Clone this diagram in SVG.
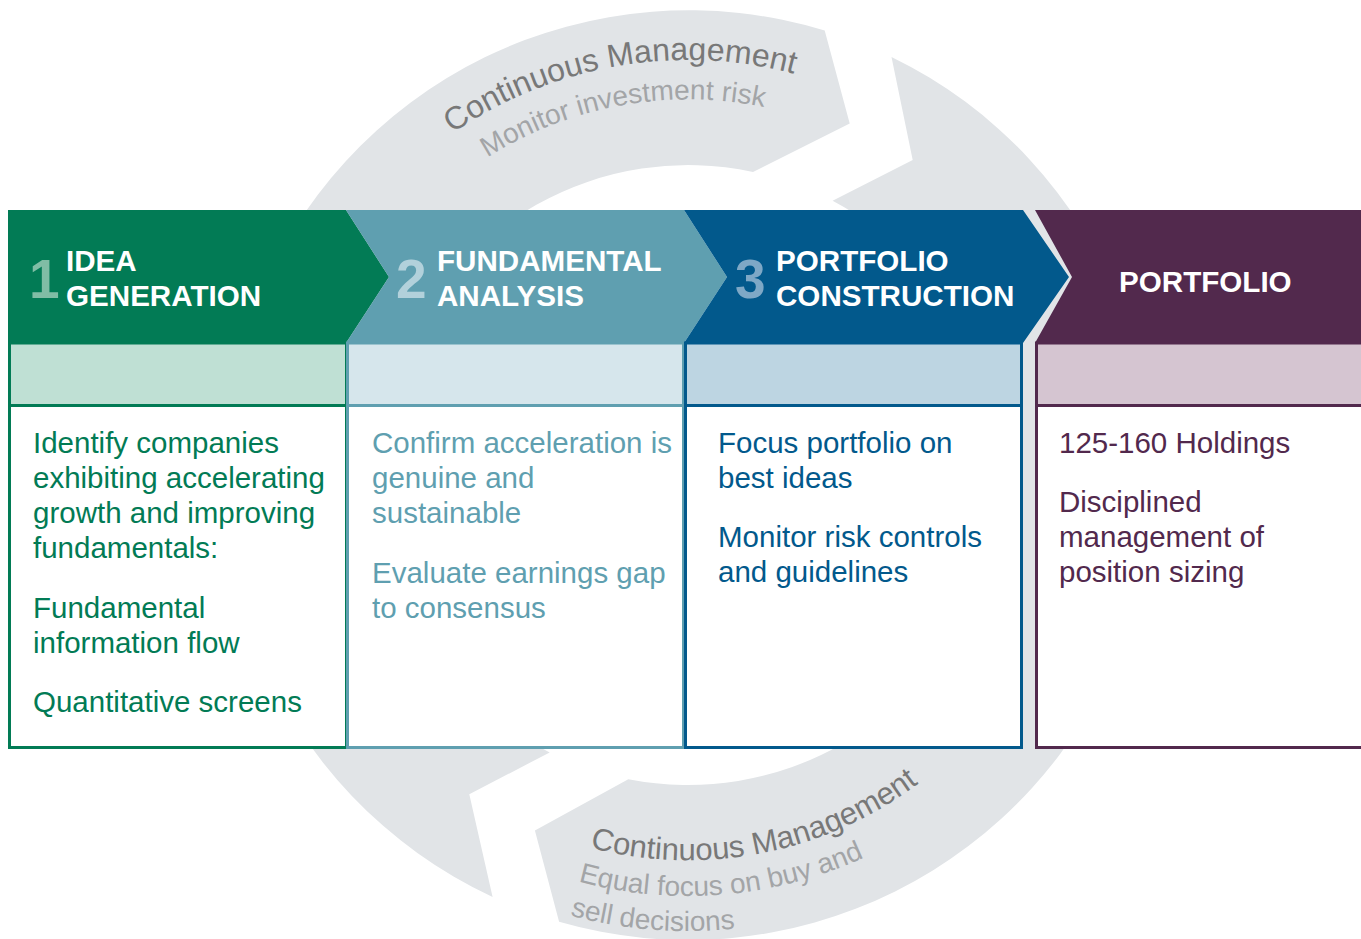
<svg xmlns="http://www.w3.org/2000/svg" width="1361" height="939" viewBox="0 0 1361 939">
<style>
.ring{fill:#E1E4E7}
.arcmain{font-family:"Liberation Sans",Arial,sans-serif;font-size:32px;fill:#787878}
.arcmainb{font-family:"Liberation Sans",Arial,sans-serif;font-size:31px;fill:#787878}
.arcsub{font-family:"Liberation Sans",Arial,sans-serif;font-size:28px;fill:#A3A5A7}
.num{font-family:"Liberation Sans",Arial,sans-serif;font-size:55px;font-weight:bold}
.title{font-family:"Liberation Sans",Arial,sans-serif;font-size:29.6px;font-weight:bold;fill:#FFFFFF}
.body{font-family:"Liberation Sans",Arial,sans-serif;font-size:29.5px}
.frame{fill:none;stroke-width:3}
</style>
<defs>
<path id="pTopMain" d="M 452.4,133.4 A 415 415 0 0 1 1005.9,208.2"/>
<path id="pTopSub" d="M 487.5,157.5 A 376 376 0 0 1 976.0,233.5"/>
<path id="pBotMain" d="M 589.9,847.6 A 385 385 0 0 0 1049.8,606.7"/>
<path id="pBotSub1" d="M 578.3,881.5 A 421 421 0 0 0 1083.6,619.0"/>
<path id="pBotSub2" d="M 570.0,915.5 A 456 456 0 0 0 1116.5,631.0"/>
</defs>
<rect x="0" y="0" width="1361" height="939" fill="#FFFFFF"/>

<g id="connectors">
<path id="cycle-top" class="ring" d="M 492.6,896.9 A 465 465 0 0 1 824.7,30.6 L 849.7,123.4 L 753.0,171.9 A 310 310 0 0 0 549.7,752.4 L 469.3,794.3 Z"/>
<path id="cycle-bottom" class="ring" d="M 891.5,56.9 A 465 465 0 0 1 559.1,921.8 L 534.9,830.4 L 628.3,779.2 A 310 310 0 0 0 832.6,200.8 L 912.7,159.9 Z"/>
</g>

<g id="label-top">
<text class="arcmain"><textPath href="#pTopMain">Continuous Management</textPath></text>
<text class="arcsub"><textPath href="#pTopSub">Monitor investment risk</textPath></text>
</g>
<g id="label-bottom">
<text class="arcmainb"><textPath href="#pBotMain">Continuous Management</textPath></text>
<text class="arcsub"><textPath href="#pBotSub1">Equal focus on buy and</textPath></text>
<text class="arcsub"><textPath href="#pBotSub2">sell decisions</textPath></text>
</g>

<g id="col-idea">
<rect x="8" y="343" width="339" height="62" fill="#BFE0D4"/>
<rect x="8" y="405" width="339" height="343" fill="#FFFFFF"/>
<rect class="frame" x="9.5" y="343" width="337" height="404.5" stroke="#027B55"/>
<line x1="8" y1="405.5" x2="347" y2="405.5" stroke="#027B55" stroke-width="3"/>
<polygon points="8,210 346,210 389,277 346,343 8,343" fill="#027B55"/>
<text class="num" x="29" y="298" fill="#80BDA5">1</text>
<text class="title" x="66" y="271">IDEA</text>
<text class="title" x="66" y="306">GENERATION</text>
<g class="body" fill="#027B55">
<text x="33" y="453">Identify companies</text>
<text x="33" y="488">exhibiting accelerating</text>
<text x="33" y="523">growth and improving</text>
<text x="33" y="558">fundamentals:</text>
<text x="33" y="617.5">Fundamental</text>
<text x="33" y="652.5">information flow</text>
<text x="33" y="711.5">Quantitative screens</text>
</g>
</g>

<g id="col-fundamental">
<rect x="346" y="343" width="339" height="62" fill="#D6E6EC"/>
<rect x="346" y="405" width="339" height="343" fill="#FFFFFF"/>
<rect class="frame" x="347.5" y="343" width="336" height="404.5" stroke="#5F9FB0"/>
<line x1="346" y1="405.5" x2="685" y2="405.5" stroke="#5F9FB0" stroke-width="3"/>
<polygon points="346,210 684,210 727,277 684,343 346,343 389,277" fill="#5F9FB0"/>
<text class="num" x="396" y="298" fill="#B2D1DB">2</text>
<text class="title" x="437" y="271">FUNDAMENTAL</text>
<text class="title" x="437" y="306">ANALYSIS</text>
<g class="body" fill="#5F9FB0">
<text x="372" y="453">Confirm acceleration is</text>
<text x="372" y="488">genuine and</text>
<text x="372" y="522.5">sustainable</text>
<text x="372" y="583">Evaluate earnings gap</text>
<text x="372" y="617.5">to consensus</text>
</g>
</g>

<g id="col-construction">
<rect x="684" y="343" width="339" height="62" fill="#BDD5E2"/>
<rect x="684" y="405" width="339" height="343" fill="#FFFFFF"/>
<rect class="frame" x="685.5" y="343" width="336" height="404.5" stroke="#02598C"/>
<line x1="684" y1="405.5" x2="1023" y2="405.5" stroke="#02598C" stroke-width="3"/>
<polygon points="684,210 1023,210 1069,277 1023,343 684,343 727,277" fill="#02598C"/>
<text class="num" x="735" y="298" fill="#7EA8C6">3</text>
<text class="title" x="776" y="271">PORTFOLIO</text>
<text class="title" x="776" y="306">CONSTRUCTION</text>
<g class="body" fill="#02598C">
<text x="718" y="453">Focus portfolio on</text>
<text x="718" y="487.5">best ideas</text>
<text x="718" y="547">Monitor risk controls</text>
<text x="718" y="582">and guidelines</text>
</g>
</g>

<g id="col-portfolio">
<rect x="1035" y="343" width="326" height="62" fill="#D5C5D1"/>
<rect x="1035" y="405" width="326" height="343" fill="#FFFFFF"/>
<rect class="frame" x="1036.5" y="343" width="330" height="404.5" stroke="#52294D"/>
<line x1="1035" y1="405.5" x2="1361" y2="405.5" stroke="#52294D" stroke-width="3"/>
<polygon points="1035,210 1361,210 1361,343 1035,343 1072,277" fill="#52294D"/>
<text class="title" x="1119" y="292">PORTFOLIO</text>
<g class="body" fill="#52294D">
<text x="1059" y="453">125-160 Holdings</text>
<text x="1059" y="512">Disciplined</text>
<text x="1059" y="547">management of</text>
<text x="1059" y="582">position sizing</text>
</g>
</g>
</svg>
